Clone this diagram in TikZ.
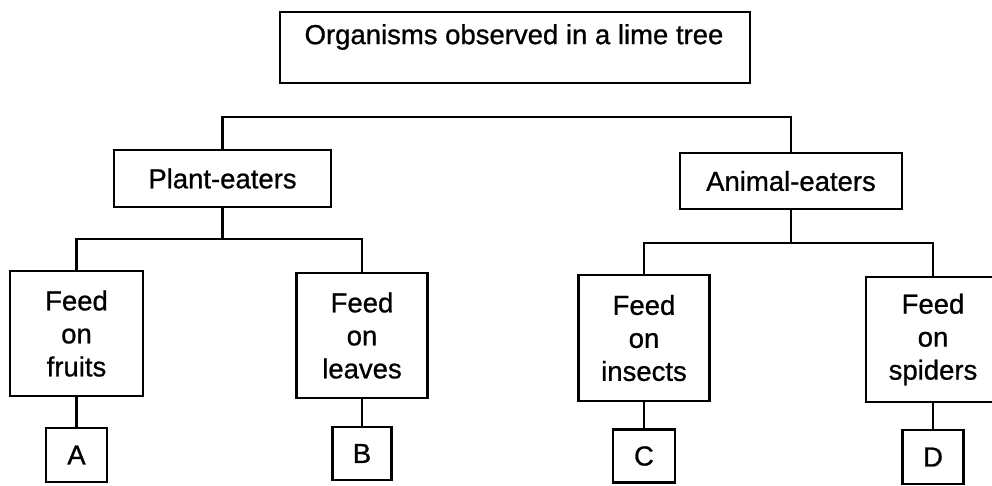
\documentclass[tikz,border=0pt]{standalone}
\usepackage{fontspec}
\setmainfont{Liberation Sans}
\newfontfamily\diagfont[FakeBold=0.8]{Liberation Sans}
\begin{document}
\begin{tikzpicture}[x=1pt,y=-1pt,
  every node/.style={font=\diagfont\fontsize{27.5}{33}\selectfont},
  box/.style={draw=black,line width=2.5pt,inner sep=0pt,align=center},
  txt/.style={inner sep=0pt},
  conn/.style={draw=black,line width=2.5pt}]
\useasboundingbox[fill=white] (0,0) rectangle (992,485);
% boxes
\node[box,minimum width=470pt,minimum height=71pt] (top) at (515,47.5) {};
\node[txt] (toptext) at (514,37) {Organisms observed in a lime tree};
\node[box,minimum width=217pt,minimum height=57pt] (plant) at (222.5,178.5) {Plant-eaters};
\node[box,minimum width=222pt,minimum height=56pt] (animal) at (791,181) {Animal-eaters};
\node[box,minimum width=133pt,minimum height=125pt] (fruits) at (76.5,333.5) {Feed\\on\\fruits};
\node[box,minimum width=131pt,minimum height=125pt] (leaves) at (362,335.5) {Feed\\on\\leaves};
\node[box,minimum width=131pt,minimum height=126pt] (insects) at (644,338) {Feed\\on\\insects};
\node[box,minimum width=134pt,minimum height=125pt] (spiders) at (933,339.5) {Feed\\on\\spiders};
\node[box,minimum width=61pt,minimum height=54pt] (A) at (76.5,455) {A};
\node[box,minimum width=59pt,minimum height=53pt] (B) at (362,453.5) {B};
\node[box,minimum width=62pt,minimum height=53pt] (C) at (644,456) {C};
\node[box,minimum width=61pt,minimum height=54pt] (D) at (933,457) {D};
% junctions
\coordinate (j1) at (507,117);
\coordinate (pj) at (220,239);
\coordinate (aj) at (790,243);
% connectors
\draw[conn] (plant.north) |- (j1) -| (animal.north);
\draw[conn] (plant.south) -- (plant.south |- pj);
\draw[conn] (fruits.north) |- (pj) -| (leaves.north);
\draw[conn] (animal.south) -- (animal.south |- aj);
\draw[conn] (insects.north) |- (aj) -| (spiders.north);
\draw[conn] (fruits.south) -- (A.north);
\draw[conn] (leaves.south) -- (B.north);
\draw[conn] (insects.south) -- (C.north);
\draw[conn] (spiders.south) -- (D.north);
\end{tikzpicture}
\end{document}
